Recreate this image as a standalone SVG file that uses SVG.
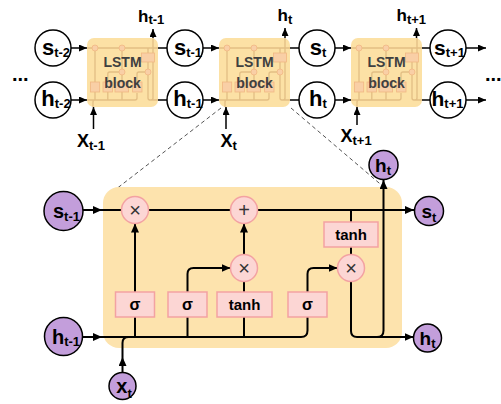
<svg xmlns="http://www.w3.org/2000/svg" width="501" height="404" viewBox="0 0 501 404">
<style>
text { font-family: "Liberation Sans", Arial, sans-serif; font-weight: bold; fill: #000; }
.circ { fill: #fff; stroke: #000; stroke-width: 1.5; }
.purple { fill: #C39EDB; stroke: #000; stroke-width: 1.5; }
.blk { fill: #FCE1A5; }
.big { fill: #FDE3AD; }
.gate { fill: #FCD6D4; stroke: #F3A2A2; stroke-width: 1.5; }
.ln { fill: none; stroke: #000; stroke-width: 1.5; }
.ln2 { fill: none; stroke: #000; stroke-width: 2; }
.dash { fill: none; stroke: #555; stroke-width: 1; stroke-dasharray: 4 3; }
.op { font-weight: normal; fill: #333; font-size: 20px; }
.fn { font-size: 15px; }
.sg { font-size: 16px; }
.lbl { font-size: 14px; fill: #404040; }
.mline { fill: none; stroke: #E2BE84; stroke-width: 1.3; }
.mgate { fill: #F9CFA6; stroke: #F1B783; stroke-width: 0.8; }
</style>
<defs>
<marker id="ah" markerUnits="userSpaceOnUse" markerWidth="8" markerHeight="7" refX="8" refY="3.5" orient="auto"><path d="M0,0 L8,3.5 L0,7 z" fill="#000"/></marker>
<marker id="ah2" markerUnits="userSpaceOnUse" markerWidth="9" markerHeight="8" refX="9" refY="4" orient="auto"><path d="M0,0 L9,4 L0,8 z" fill="#000"/></marker>
<g id="mini">
<rect class="blk" width="71" height="69" rx="7"/>
<path class="mline" d="M0,10 H71 M0,62 H48 Q50,62 50,60 V55 M6,69 V64 Q6,62 8,62 M8,62 V13 M20.8,62 V36 Q20.8,34 22.8,34 H32 M35,62 V13 M50,44 V36 Q50,34 52,34 H58 M61,10 V15 M61,24 V31 M61,37 V60 Q61,62 63,62 H71 M64,62 Q66,62 66,60 V0"/>
<g class="mgate">
<circle cx="8" cy="10" r="3"/><circle cx="35" cy="10" r="3"/><circle cx="35" cy="34" r="3"/><circle cx="61" cy="34" r="3"/>
<rect x="3.4" y="44" width="9.3" height="10"/><rect x="16" y="44" width="9.5" height="10"/><rect x="28" y="44" width="13.6" height="10"/><rect x="45.6" y="44" width="9.4" height="10"/><rect x="54.5" y="15" width="13" height="9"/>
</g>
</g>
</defs>

<!-- top row connectors -->
<g id="connectors-top">
<path class="ln" d="M71,48 H87" marker-end="url(#ah)"/>
<path class="ln" d="M71,100 H87" marker-end="url(#ah)"/>
<path class="ln" d="M158,48 H167 M158,100 H167"/>
<path class="ln" d="M203,48 H219" marker-end="url(#ah)"/>
<path class="ln" d="M203,100 H219" marker-end="url(#ah)"/>
<path class="ln" d="M290,48 H299 M290,100 H299"/>
<path class="ln" d="M335,48 H351" marker-end="url(#ah)"/>
<path class="ln" d="M335,100 H351" marker-end="url(#ah)"/>
<path class="ln" d="M422,48 H430 M422,100 H430"/>
<path class="ln" d="M466,48 H486" marker-end="url(#ah)"/>
<path class="ln" d="M466,100 H486" marker-end="url(#ah)"/>
<path class="ln" d="M153,38 V29" marker-end="url(#ah)"/>
<path class="ln" d="M285,38 V28" marker-end="url(#ah)"/>
<path class="ln" d="M416.5,38 V28" marker-end="url(#ah)"/>
<path class="ln" d="M93.5,129 V107" marker-end="url(#ah)"/>
<path class="ln" d="M226,129 V107" marker-end="url(#ah)"/>
<path class="ln" d="M357,125 V107" marker-end="url(#ah)"/>
<path class="dash" d="M221,108 L111,193"/>
<path class="dash" d="M291,108 L392,194"/>
</g>

<!-- top row nodes -->
<g id="block-t-1"><use href="#mini" x="87" y="38"/><text class="lbl" x="122.5" y="67" text-anchor="middle">LSTM</text><text class="lbl" x="122.5" y="88" text-anchor="middle">block</text></g>
<g id="block-t"><use href="#mini" x="219" y="38"/><text class="lbl" x="254.5" y="67" text-anchor="middle">LSTM</text><text class="lbl" x="254.5" y="88" text-anchor="middle">block</text></g>
<g id="block-t+1"><use href="#mini" x="351" y="38"/><text class="lbl" x="386.5" y="67" text-anchor="middle">LSTM</text><text class="lbl" x="386.5" y="88" text-anchor="middle">block</text></g>

<g id="s-t-2"><circle class="circ" cx="53" cy="48" r="18"/><text x="56" y="54.5" text-anchor="middle" font-size="22">s<tspan font-size="13" dy="2.4">t-2</tspan></text></g>
<g id="h-t-2"><circle class="circ" cx="53" cy="100" r="18"/><text x="56" y="105.5" text-anchor="middle" font-size="22">h<tspan font-size="13" dy="2">t-2</tspan></text></g>
<g id="s-t-1"><circle class="circ" cx="185" cy="48" r="18"/><text x="188" y="54.5" text-anchor="middle" font-size="22">s<tspan font-size="13" dy="2.4">t-1</tspan></text></g>
<g id="h-t-1"><circle class="circ" cx="185" cy="100" r="18"/><text x="188" y="105.5" text-anchor="middle" font-size="22">h<tspan font-size="13" dy="2">t-1</tspan></text></g>
<g id="s-t"><circle class="circ" cx="317" cy="48" r="18"/><text x="318" y="54.5" text-anchor="middle" font-size="22">s<tspan font-size="13" dy="2.4">t</tspan></text></g>
<g id="h-t"><circle class="circ" cx="317" cy="100" r="18"/><text x="318" y="105.5" text-anchor="middle" font-size="22">h<tspan font-size="13" dy="2">t</tspan></text></g>
<g id="s-t+1"><circle class="circ" cx="448" cy="48" r="18"/><text x="449.5" y="54.5" text-anchor="middle" font-size="21">s<tspan font-size="13" dy="2.4">t+1</tspan></text></g>
<g id="h-t+1"><circle class="circ" cx="448" cy="100" r="18"/><text x="447.5" y="105.5" text-anchor="middle" font-size="21">h<tspan font-size="13" dy="2">t+1</tspan></text></g>

<g id="labels-top">
<text x="138" y="21.5" font-size="17">h<tspan font-size="13" dy="2.5">t-1</tspan></text>
<text x="277.5" y="21" font-size="17">h<tspan font-size="13" dy="2.5">t</tspan></text>
<text x="396.5" y="21" font-size="17">h<tspan font-size="13" dy="2.5">t+1</tspan></text>
<text x="77" y="146.5" font-size="18">X<tspan font-size="13" dy="3">t-1</tspan></text>
<text x="220.5" y="146.5" font-size="18">X<tspan font-size="13" dy="3">t</tspan></text>
<text x="340.5" y="141.5" font-size="18">X<tspan font-size="13" dy="3">t+1</tspan></text>
<text x="12" y="81" font-size="20">...</text>
<text x="485" y="81" font-size="20">...</text>
</g>

<!-- detailed LSTM block -->
<g id="lstm-detail"><rect class="big" x="103" y="187" width="299" height="161" rx="16"/></g>

<g id="connectors">
<path class="ln2" d="M83,210 H102" marker-end="url(#ah2)"/>
<path class="ln2" d="M102,210 H121.5 M148.5,210 H230.5"/>
<path class="ln2" d="M257.5,210 H414" marker-end="url(#ah2)"/>
<path class="ln2" d="M351,210 V222 M351,247 V254.5"/>
<path class="ln2" d="M82.5,337 H102" marker-end="url(#ah2)"/>
<path class="ln2" d="M102,337 H301 Q307.5,337 307.5,330.5 V317"/>
<path class="ln2" d="M122.5,372.5 V357" marker-end="url(#ah2)"/>
<path class="ln2" d="M122.5,357 V343 Q122.5,337 128.5,337"/>
<path class="ln2" d="M135,337 V317"/>
<path class="ln2" d="M135,292 V223.5" marker-end="url(#ah2)"/>
<path class="ln2" d="M187.5,337 V317"/>
<path class="ln2" d="M187.5,292 V274 Q187.5,268 193.5,268 H230.5" marker-end="url(#ah2)"/>
<path class="ln2" d="M244,337 V317 M244,292 V281.5"/>
<path class="ln2" d="M244,254.5 V223.5" marker-end="url(#ah2)"/>
<path class="ln2" d="M307.5,292 V274 Q307.5,268 313.5,268 H337.5" marker-end="url(#ah2)"/>
<path class="ln2" d="M351,281.5 V331 Q351,337 357,337 H413.5" marker-end="url(#ah2)"/>
<path class="ln2" d="M377,337 Q383.5,337 383.5,330.5 V180" marker-end="url(#ah2)"/>
</g>

<g id="gate-forget-mul"><circle class="gate" cx="135" cy="210" r="13.5"/><text class="op" x="135" y="217" text-anchor="middle">×</text></g>
<g id="gate-add"><circle class="gate" cx="244" cy="210" r="13.5"/><text class="op" x="244" y="217" text-anchor="middle">+</text></g>
<g id="gate-input-mul"><circle class="gate" cx="244" cy="268" r="13.5"/><text class="op" x="244" y="275" text-anchor="middle">×</text></g>
<g id="gate-output-mul"><circle class="gate" cx="351" cy="268" r="13.5"/><text class="op" x="351" y="275" text-anchor="middle">×</text></g>

<g id="box-sigma-f"><rect class="gate" x="115.5" y="292" width="39" height="25"/><text class="sg" x="135" y="310" text-anchor="middle">σ</text></g>
<g id="box-sigma-i"><rect class="gate" x="168" y="292" width="39" height="25"/><text class="sg" x="187.5" y="310" text-anchor="middle">σ</text></g>
<g id="box-tanh-c"><rect class="gate" x="217" y="292" width="55" height="25"/><text class="fn" x="244.5" y="310" text-anchor="middle">tanh</text></g>
<g id="box-sigma-o"><rect class="gate" x="288" y="292" width="39" height="25"/><text class="sg" x="307.5" y="310" text-anchor="middle">σ</text></g>
<g id="box-tanh-out"><rect class="gate" x="324" y="222" width="54" height="25"/><text class="fn" x="351" y="240" text-anchor="middle">tanh</text></g>

<g id="in-s-t-1"><circle class="purple" cx="63.5" cy="211" r="19.5"/><text x="66.5" y="218" text-anchor="middle" font-size="20">s<tspan font-size="13" dy="3.4">t-1</tspan></text></g>
<g id="in-h-t-1"><circle class="purple" cx="63.5" cy="336.5" r="19"/><text x="66" y="344" text-anchor="middle" font-size="20">h<tspan font-size="13" dy="2">t-1</tspan></text></g>
<g id="in-x-t"><circle class="purple" cx="122.5" cy="386" r="13.5"/><text x="124" y="392.5" text-anchor="middle" font-size="20">x<tspan font-size="13" dy="5">t</tspan></text></g>
<g id="out-h-t-top"><circle class="purple" cx="383.5" cy="165" r="14.5"/><text x="383" y="171.5" text-anchor="middle" font-size="19">h<tspan font-size="13" dy="3">t</tspan></text></g>
<g id="out-s-t"><circle class="purple" cx="429" cy="211" r="14.5"/><text x="429" y="218" text-anchor="middle" font-size="19">s<tspan font-size="13" dy="3.5">t</tspan></text></g>
<g id="out-h-t"><circle class="purple" cx="427.5" cy="338" r="14"/><text x="427.5" y="345" text-anchor="middle" font-size="19">h<tspan font-size="13" dy="3">t</tspan></text></g>
</svg>
